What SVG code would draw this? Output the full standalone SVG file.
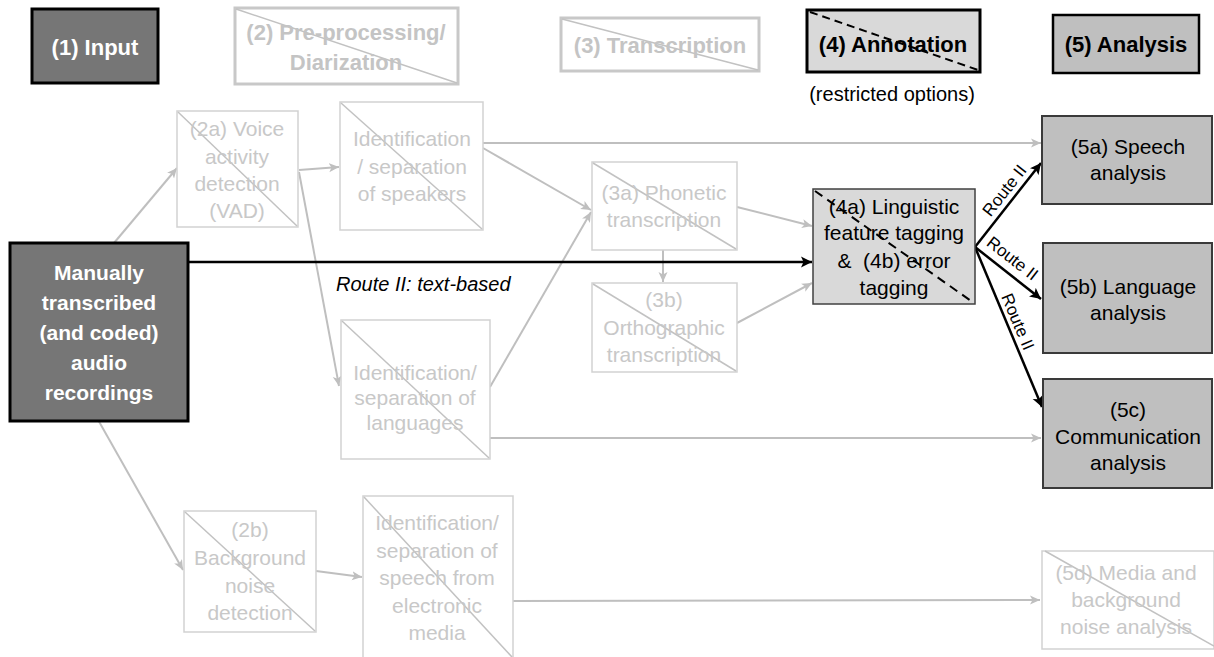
<svg xmlns="http://www.w3.org/2000/svg" width="1214" height="657" viewBox="0 0 1214 657">
<defs>
<marker id="ag" markerUnits="userSpaceOnUse" markerWidth="12" markerHeight="10" refX="10" refY="5" orient="auto"><path d="M0,0.5 L10,5 L0,9.5 L2.5,5 z" fill="#bfbfbf"/></marker>
<marker id="ab" markerUnits="userSpaceOnUse" markerWidth="14" markerHeight="12" refX="11" refY="6" orient="auto"><path d="M0,0.5 L11,6 L0,11.5 L2.5,6 z" fill="#000"/></marker>
</defs>
<style>
text{font-family:"Liberation Sans",Arial,sans-serif;text-anchor:middle}
.ht{font-size:22px;font-weight:bold}
.nt{font-size:21px}
.ght{fill:#c4c4c4}
.gt{fill:#c8c8c8}
.wt{fill:#fff;font-weight:bold;font-size:21px}
.gbox{fill:#fff;stroke:#d2d2d2;stroke-width:1.5}
.ghbox{fill:#fff;stroke:#c8c8c8;stroke-width:3}
.diag{stroke:#c2c2c2;stroke-width:1.5}
.abox{fill:#bfbfbf;stroke:#3a3a3a;stroke-width:2}
.ga{stroke:#bfbfbf;stroke-width:2;fill:none;marker-end:url(#ag)}
.ba{stroke:#000;stroke-width:2.5;fill:none;marker-end:url(#ab)}
.rl{font-size:17px;fill:#000}
</style>
<rect width="1214" height="657" fill="#fff"/>

<g id="h1">
<rect x="32" y="9" width="126" height="74" fill="#767676" stroke="#000" stroke-width="3"/>
<text class="ht" x="95" y="55" fill="#fff">(1) Input</text>
</g>
<g id="h2">
<rect class="ghbox" x="235" y="8" width="223" height="76"/>
<line class="diag" x1="236" y1="9" x2="457" y2="83"/>
<text class="ht ght" x="346" y="40">(2) Pre-processing/</text>
<text class="ht ght" x="346" y="70">Diarization</text>
</g>
<g id="h3">
<rect class="ghbox" x="561" y="18" width="198" height="53"/>
<line class="diag" x1="562" y1="19" x2="758" y2="70"/>
<text class="ht ght" x="660" y="53">(3) Transcription</text>
</g>
<g id="h4">
<rect x="807" y="10" width="173" height="62" fill="#d9d9d9" stroke="#000" stroke-width="3"/>
<line x1="810" y1="12" x2="978" y2="70" stroke="#000" stroke-width="2" stroke-dasharray="8,5"/>
<text class="ht" x="893" y="52" fill="#000">(4) Annotation</text>
<text x="892" y="101" style="font-size:20px" fill="#000">(restricted options)</text>
</g>
<g id="h5">
<rect x="1053" y="15" width="146" height="58" fill="#bfbfbf" stroke="#000" stroke-width="2.5"/>
<text class="ht" x="1126" y="52" fill="#000">(5) Analysis</text>
</g>

<g id="connectors">
<line class="ga" x1="114" y1="243" x2="177" y2="168"/>
<line class="ga" x1="299" y1="170" x2="339" y2="167"/>
<line class="ga" x1="299" y1="172" x2="339" y2="386"/>
<line class="ga" x1="483" y1="143" x2="1041" y2="143"/>
<line class="ga" x1="483" y1="148" x2="591" y2="210"/>
<line class="ga" x1="490" y1="387" x2="591" y2="212"/>
<line class="ga" x1="663" y1="250" x2="663" y2="282"/>
<line class="ga" x1="737" y1="207" x2="812" y2="226"/>
<line class="ga" x1="737" y1="323" x2="812" y2="283"/>
<line class="ga" x1="490" y1="438" x2="1041" y2="438"/>
<line class="ga" x1="97" y1="418" x2="183" y2="570"/>
<line class="ga" x1="316" y1="571" x2="362" y2="577"/>
<line class="ga" x1="513" y1="601" x2="1040" y2="600"/>
<line class="ba" x1="188" y1="262" x2="812" y2="262"/>
<line class="ba" x1="975" y1="247" x2="1041" y2="163"/>
<line class="ba" x1="975" y1="247" x2="1041" y2="299"/>
<line class="ba" x1="975" y1="247" x2="1042" y2="407"/>
<text x="336" y="291" style="font-size:20px;font-style:italic;text-anchor:start" fill="#000">Route II: text-based</text>
<text class="rl" transform="translate(1009,194) rotate(-51.8)">Route II</text>
<text class="rl" transform="translate(1009,263) rotate(37.8)">Route II</text>
<text class="rl" transform="translate(1012.5,324) rotate(67.1)">Route II</text>
</g>

<g id="manual">
<rect x="10" y="243" width="178" height="178" fill="#767676" stroke="#000" stroke-width="3"/>
<text class="wt" x="99" y="280">Manually</text>
<text class="wt" x="99" y="310">transcribed</text>
<text class="wt" x="99" y="340">(and coded)</text>
<text class="wt" x="99" y="370">audio</text>
<text class="wt" x="99" y="400">recordings</text>
</g>

<g id="n2a">
<rect class="gbox" x="177" y="111" width="121" height="116"/>
<line class="diag" x1="178" y1="112" x2="297" y2="226"/>
<text class="nt gt" x="237" y="136">(2a) Voice</text>
<text class="nt gt" x="237" y="164">activity</text>
<text class="nt gt" x="237" y="191">detection</text>
<text class="nt gt" x="237" y="218">(VAD)</text>
</g>
<g id="nspk">
<rect class="gbox" x="340" y="102" width="143" height="128"/>
<line class="diag" x1="341" y1="103" x2="482" y2="229"/>
<text class="nt gt" x="412" y="146">Identification</text>
<text class="nt gt" x="412" y="174">/ separation</text>
<text class="nt gt" x="412" y="201">of speakers</text>
</g>
<g id="nlang">
<rect class="gbox" x="341" y="320" width="149" height="139"/>
<line class="diag" x1="342" y1="321" x2="489" y2="458"/>
<text class="nt gt" x="415" y="380">Identification/</text>
<text class="nt gt" x="415" y="405">separation of</text>
<text class="nt gt" x="415" y="430">languages</text>
</g>
<g id="n3a">
<rect class="gbox" x="592" y="162" width="145" height="88"/>
<line class="diag" x1="593" y1="163" x2="736" y2="249"/>
<text class="nt gt" x="664" y="200">(3a) Phonetic</text>
<text class="nt gt" x="664" y="227">transcription</text>
</g>
<g id="n3b">
<rect class="gbox" x="592" y="283" width="145" height="89"/>
<line class="diag" x1="593" y1="284" x2="736" y2="371"/>
<text class="nt gt" x="664" y="307">(3b)</text>
<text class="nt gt" x="664" y="335">Orthographic</text>
<text class="nt gt" x="664" y="362">transcription</text>
</g>
<g id="n4a">
<rect x="813" y="189" width="162" height="115" fill="#d9d9d9" stroke="#404040" stroke-width="1.5"/>
<line x1="815" y1="191" x2="974" y2="303" stroke="#000" stroke-width="2" stroke-dasharray="9,6"/>
<text class="nt" x="894" y="214" fill="#000">(4a) Linguistic</text>
<text class="nt" x="894" y="240" fill="#000">feature tagging</text>
<text class="nt" x="894" y="268" fill="#000" xml:space="preserve">&amp;  (4b) error</text>
<text class="nt" x="894" y="295" fill="#000">tagging</text>
</g>
<g id="n5a">
<rect class="abox" x="1042" y="116" width="170" height="88"/>
<text class="nt" x="1128" y="154" fill="#000">(5a) Speech</text>
<text class="nt" x="1128" y="180" fill="#000">analysis</text>
</g>
<g id="n5b">
<rect class="abox" x="1043" y="243" width="169" height="110"/>
<text class="nt" x="1128" y="294" fill="#000">(5b) Language</text>
<text class="nt" x="1128" y="320" fill="#000">analysis</text>
</g>
<g id="n5c">
<rect class="abox" x="1043" y="379" width="169" height="109"/>
<text class="nt" x="1128" y="417" fill="#000">(5c)</text>
<text class="nt" x="1128" y="444" fill="#000">Communication</text>
<text class="nt" x="1128" y="470" fill="#000">analysis</text>
</g>
<g id="n2b">
<rect class="gbox" x="184" y="511" width="132" height="121"/>
<line class="diag" x1="185" y1="512" x2="315" y2="631"/>
<text class="nt gt" x="250" y="537">(2b)</text>
<text class="nt gt" x="250" y="565">Background</text>
<text class="nt gt" x="250" y="593">noise</text>
<text class="nt gt" x="250" y="620">detection</text>
</g>
<g id="nmedia">
<rect class="gbox" x="363" y="496" width="150" height="165"/>
<line class="diag" x1="364" y1="497" x2="512" y2="657"/>
<text class="nt gt" x="437" y="530">Identification/</text>
<text class="nt gt" x="437" y="558">separation of</text>
<text class="nt gt" x="437" y="585">speech from</text>
<text class="nt gt" x="437" y="613">electronic</text>
<text class="nt gt" x="437" y="640">media</text>
</g>
<g id="n5d">
<rect class="gbox" x="1042" y="551" width="172" height="98"/>
<line class="diag" x1="1045" y1="551" x2="1214" y2="646"/>
<text class="nt gt" x="1126" y="580">(5d) Media and</text>
<text class="nt gt" x="1126" y="607">background</text>
<text class="nt gt" x="1126" y="634">noise analysis</text>
</g>
</svg>
